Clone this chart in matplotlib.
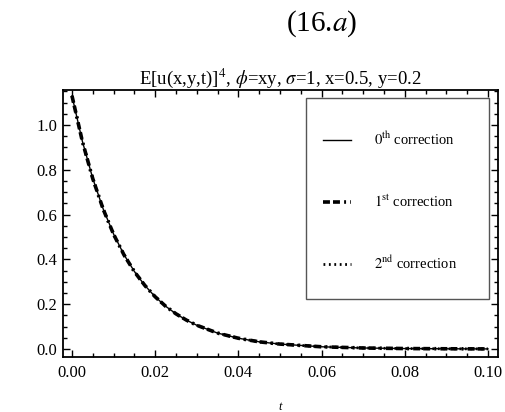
import matplotlib
matplotlib.use("Agg")
import matplotlib.pyplot as plt
from matplotlib.patches import Rectangle
from matplotlib.ticker import MultipleLocator, FormatStrFormatter

plt.rcParams['font.family'] = ['Liberation Serif', 'DejaVu Serif']
plt.rcParams['mathtext.fontset'] = 'stix'
plt.rcParams['lines.scale_dashes'] = False

# values
t = [0.0, 0.0025, 0.005, 0.0075, 0.01, 0.0125, 0.015, 0.0175, 0.02, 0.0225,
     0.025, 0.0275, 0.03, 0.035, 0.04, 0.045, 0.05, 0.06, 0.07, 0.08, 0.09, 0.10]
corr0 = [1.13, 0.927, 0.761, 0.625, 0.513, 0.421, 0.346, 0.284, 0.233, 0.191,
         0.157, 0.129, 0.106, 0.071, 0.048, 0.032, 0.022, 0.0099, 0.0045, 0.002, 0.001, 0.0004]
corr1 = [1.13, 0.926, 0.760, 0.624, 0.512, 0.420, 0.345, 0.284, 0.233, 0.191,
         0.157, 0.129, 0.106, 0.071, 0.048, 0.032, 0.022, 0.0099, 0.0045, 0.002, 0.001, 0.0004]
corr2 = [1.13, 0.927, 0.761, 0.625, 0.513, 0.421, 0.346, 0.284, 0.233, 0.191,
         0.157, 0.129, 0.106, 0.071, 0.048, 0.032, 0.022, 0.0099, 0.0045, 0.002, 0.001, 0.0004]
labels = [r"$0^{\rm th}$ correction", r"$1^{\rm st}$ correction", r"$2^{\rm nd}$ correction"]

fig = plt.figure(figsize=(5.05, 4.12), dpi=100)
ax = fig.add_axes([63/505, 1-357/412, 435/505, 267/412])

ax.plot(t, corr0, color='black', lw=1.0, label=labels[0])
ax.plot(t, corr1, color='black', lw=2.6, ls=(0, (5, 2.2, 5, 3, 1.4, 3)), label=labels[1])
ax.plot(t, corr2, color='black', lw=2.0, ls=(0, (1.3, 2.6)), label=labels[2])

ax.set_xlim(-0.00216, 0.1024)
ax.set_ylim(-0.0357, 1.156)
ax.xaxis.set_major_locator(MultipleLocator(0.02))
ax.xaxis.set_minor_locator(MultipleLocator(0.005))
ax.yaxis.set_major_locator(MultipleLocator(0.2))
ax.yaxis.set_minor_locator(MultipleLocator(0.05))
ax.xaxis.set_major_formatter(FormatStrFormatter('%.2f'))
ax.yaxis.set_major_formatter(FormatStrFormatter('%.1f'))
ax.tick_params(which='both', direction='in', top=True, right=True, labelsize=12, width=1.0)
ax.tick_params(which='major', length=5)
ax.tick_params(which='minor', length=3)
ax.tick_params(axis='x', which='major', pad=6)
ax.tick_params(axis='y', which='major', pad=4)
for s in ax.spines.values():
    s.set_linewidth(1.3)

ax.set_title(r"E[u(x,y,t)]$^4$, $\phi$=xy, $\sigma$=1, x=0.5, y=0.2", fontsize=13.5, pad=2)
ax.set_xlabel("t", fontstyle='italic', fontsize=9, labelpad=14)
fig.text(0.636, 0.942, r"(16.$a$)", fontsize=21, ha='center', va='center')

ax.add_patch(Rectangle(((306-63)/435, (357-299)/267), (489-306)/435, (299-98)/267,
                       transform=ax.transAxes, fill=False, edgecolor='#555555', lw=1.0, zorder=5))
ax.legend(loc='upper left', bbox_to_anchor=((310-63)/435, (357-118)/267), frameon=False,
          fontsize=10.5, handlelength=1.9, handletextpad=1.6, labelspacing=3.1)

fig.savefig("out.png", dpi=100)
